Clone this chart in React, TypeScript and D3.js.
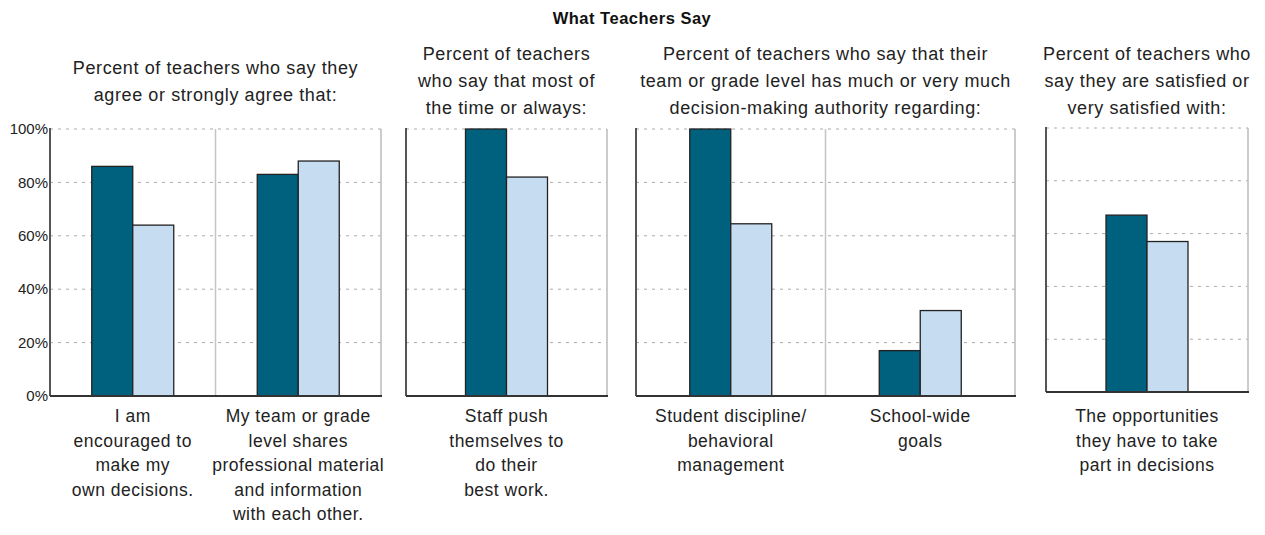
import React from "react";
import * as d3 from "d3";

const TITLE = "What Teachers Say";
const SERIES = ["series1", "series2"];
const COLORS = ["#00617f", "#c6dcf1"];
const Y_TICKS = [0, 20, 40, 60, 80, 100];
const Y_TICK_LABELS = ["0%", "20%", "40%", "60%", "80%", "100%"];

const P1_SUBTITLE = ["Percent of teachers who say they", "agree or strongly agree that:"];
const P1_CATEGORIES = [
  ["I am", "encouraged to", "make my", "own decisions."],
  ["My team or grade", "level shares", "professional material", "and information", "with each other."],
];
const P1_SERIES1 = [86, 83];
const P1_SERIES2 = [64, 88];

const P2_SUBTITLE = ["Percent of teachers", "who say that most of", "the time or always:"];
const P2_CATEGORIES = [["Staff push", "themselves to", "do their", "best work."]];
const P2_SERIES1 = [100];
const P2_SERIES2 = [82];

const P3_SUBTITLE = [
  "Percent of teachers who say that their",
  "team or grade level has much or very much",
  "decision-making authority regarding:",
];
const P3_CATEGORIES = [
  ["Student discipline/", "behavioral", "management"],
  ["School-wide", "goals"],
];
const P3_SERIES1 = [100, 17];
const P3_SERIES2 = [64.5, 32];

const P4_SUBTITLE = ["Percent of teachers who", "say they are satisfied or", "very satisfied with:"];
const P4_CATEGORIES = [["The opportunities", "they have to take", "part in decisions"]];
const P4_SERIES1 = [67];
const P4_SERIES2 = [57];

const FONT = "'Liberation Sans', Arial, Helvetica, sans-serif";
const TEXT = "#222";

type PanelDef = {
  subtitle: string[];
  subY: number;
  cats: string[][];
  s1: number[];
  s2: number[];
  x0: number;
  x1: number;
  yBottom: number;
  yTop: number;
  showTicks: boolean;
};

const PANELS: PanelDef[] = [
  { subtitle: P1_SUBTITLE, subY: 67.5, cats: P1_CATEGORIES, s1: P1_SERIES1, s2: P1_SERIES2, x0: 50, x1: 381, yBottom: 396, yTop: 129, showTicks: true },
  { subtitle: P2_SUBTITLE, subY: 54, cats: P2_CATEGORIES, s1: P2_SERIES1, s2: P2_SERIES2, x0: 406, x1: 607, yBottom: 396, yTop: 129, showTicks: false },
  { subtitle: P3_SUBTITLE, subY: 54, cats: P3_CATEGORIES, s1: P3_SERIES1, s2: P3_SERIES2, x0: 636, x1: 1015, yBottom: 396, yTop: 129, showTicks: false },
  { subtitle: P4_SUBTITLE, subY: 54, cats: P4_CATEGORIES, s1: P4_SERIES1, s2: P4_SERIES2, x0: 1046, x1: 1248, yBottom: 392, yTop: 128, showTicks: false },
];

const BAR_W = 41;
const SUB_LINE_H = 26.8;
const CAT_LINE_H = 24.5;

function Panel({ p, idx }: { p: PanelDef; idx: number }) {
  const keys = p.cats.map((_, i) => `c${idx}_${i}`);
  const x = d3.scaleBand<string>().domain(keys).range([p.x0, p.x1]).padding(0);
  const y = d3.scaleLinear().domain([0, 100]).range([p.yBottom, p.yTop]);
  const cx = (p.x0 + p.x1) / 2;
  return (
    <g>
      {p.subtitle.map((line, i) => (
        <text key={i} x={cx} y={p.subY + i * SUB_LINE_H} dy="0.35em" textAnchor="middle" fontSize={18} letterSpacing={0.6} fill={TEXT}>
          {line}
        </text>
      ))}
      {Y_TICKS.filter((t) => t > 0).map((t) => (
        <line key={t} x1={p.x0} x2={p.x1} y1={y(t)} y2={y(t)} stroke="#aaa" strokeWidth={1} strokeDasharray="3,5" />
      ))}
      {p.showTicks &&
        Y_TICKS.map((t, i) => (
          <text key={t} x={p.x0 - 2} y={y(t)} dy="0.35em" textAnchor="end" fontSize={15} fill={TEXT}>
            {Y_TICK_LABELS[i]}
          </text>
        ))}
      {keys.slice(1).map((k) => (
        <line key={k} x1={x(k)!} x2={x(k)!} y1={p.yTop} y2={p.yBottom} stroke="#c4c4c4" strokeWidth={1.5} />
      ))}
      <line x1={p.x1} x2={p.x1} y1={p.yTop} y2={p.yBottom} stroke="#bbb" strokeWidth={1.5} />
      {keys.map((k, ci) => {
        const c = x(k)! + x.bandwidth() / 2;
        const inner = d3.scaleBand<string>().domain(SERIES).range([c - BAR_W, c + BAR_W]);
        const vals = [p.s1[ci], p.s2[ci]];
        return (
          <g key={k}>
            {SERIES.map((s, si) => (
              <rect
                key={s}
                x={inner(s)!}
                y={y(vals[si])}
                width={inner.bandwidth()}
                height={y(0) - y(vals[si])}
                fill={COLORS[si]}
                stroke="#222"
                strokeWidth={1.3}
              />
            ))}
            {p.cats[ci].map((line, li) => (
              <text key={li} x={c} y={416 + li * CAT_LINE_H} dy="0.35em" textAnchor="middle" fontSize={17.5} letterSpacing={0.5} fill={TEXT}>
                {line}
              </text>
            ))}
          </g>
        );
      })}
      <line x1={p.x0} x2={p.x0} y1={p.yTop - 1} y2={p.yBottom} stroke="#555" strokeWidth={2} />
      <line x1={p.x0} x2={p.x1 + 1} y1={p.yBottom} y2={p.yBottom} stroke="#333" strokeWidth={2} />
    </g>
  );
}

export default function App() {
  return (
    <svg
      width={1265}
      height={535}
      style={{ position: "absolute", left: 0, top: 0, display: "block", background: "#fff" }}
      fontFamily={FONT}
    >
      <rect x={0} y={0} width={1265} height={535} fill="#fff" />
      <text x={632} y={18} dy="0.35em" textAnchor="middle" fontSize={16.5} letterSpacing={0.5} fontWeight="bold" fill="#111">
        {TITLE}
      </text>
      {PANELS.map((p, i) => (
        <Panel key={i} p={p} idx={i} />
      ))}
    </svg>
  );
}
